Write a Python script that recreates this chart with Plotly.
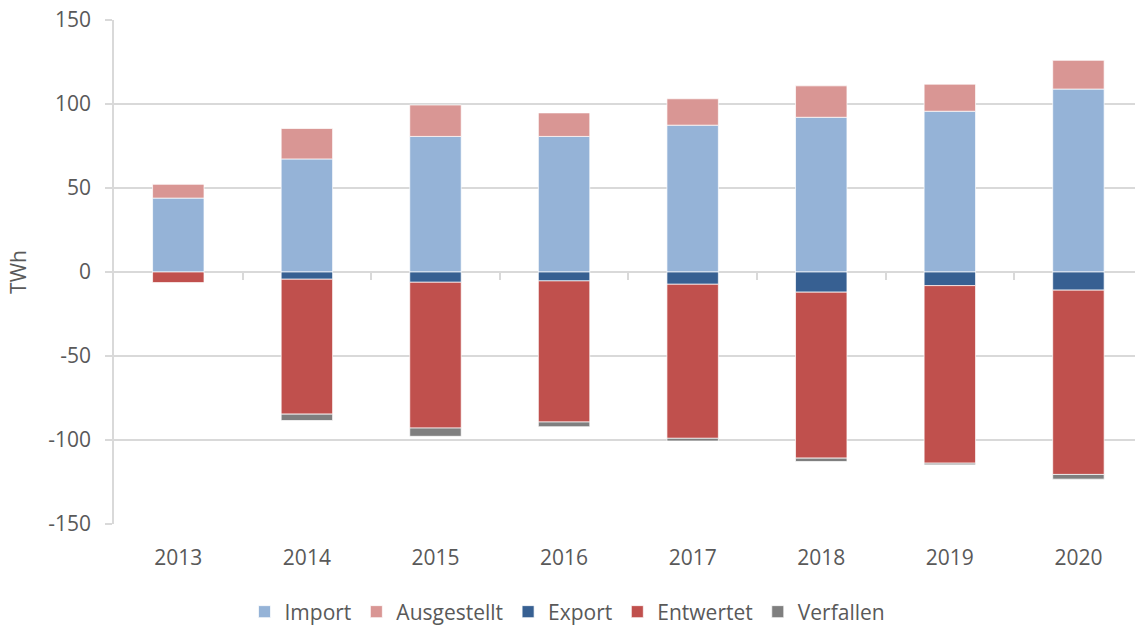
import plotly.graph_objects as go

years = ["2013", "2014", "2015", "2016", "2017", "2018", "2019", "2020"]
import_vals = [44, 67.3, 80.7, 80.7, 87.4, 92.1, 95.7, 108.9]
ausgestellt = [8.5, 18.1, 18.7, 14.0, 15.7, 18.7, 16.1, 17.1]
export_vals = [0, -4.3, -6.1, -5.3, -7.3, -12.0, -8.1, -10.8]
entwertet = [-6.3, -80.3, -86.8, -84.0, -91.7, -98.8, -105.7, -109.7]
verfallen = [0, -3.8, -4.9, -2.8, -1.6, -2.0, -1.0, -2.8]

y_ticks = [-150, -100, -50, 0, 50, 100, 150]
y_tick_labels = ["-150", "-100", "-50", "0", "50", "100", "150"]
boundaries = [0.5, 1.5, 2.5, 3.5, 4.5, 5.5, 6.5]
x_range = [-0.5, 7.44]

FONT = "Open Sans, sans-serif"
TXT = "#595959"
GRID = "#d9d9d9"

series = [
    ("Import", import_vals, "#95b3d7"),
    ("Ausgestellt", ausgestellt, "#d99694"),
    ("Export", export_vals, "#376092"),
    ("Entwertet", entwertet, "#c0504d"),
    ("Verfallen", verfallen, "#7f7f7f"),
]

fig = go.Figure()
for name, vals, col in series:
    fig.add_trace(go.Bar(
        x=years, y=vals, name=name,
        marker=dict(color=col, line=dict(color="rgba(255,255,255,0.7)", width=1)),
    ))

# helper trace so that the tick axis at zero is drawn
fig.add_trace(go.Scatter(x=[None], y=[None], xaxis="x2", showlegend=False, hoverinfo="skip"))

fig.update_layout(
    width=1135, height=628,
    margin=dict(l=114, r=0, t=20, b=104, autoexpand=False),
    paper_bgcolor="white", plot_bgcolor="white",
    barmode="relative", bargap=0.6,
    font=dict(family=FONT, size=21, color=TXT),
    xaxis=dict(
        type="category", range=x_range, showgrid=False, zeroline=False, showline=False,
        ticks="", tickfont=dict(size=21, color=TXT), ticklabelstandoff=19,
    ),
    xaxis2=dict(
        overlaying="x", anchor="free", position=0.5, side="bottom",
        range=x_range, tickvals=boundaries, ticks="outside",
        ticklen=7, tickwidth=1.5, tickcolor=GRID, showticklabels=False,
        showgrid=False, zeroline=False, showline=False,
    ),
    yaxis=dict(
        range=[-150, 150], tickvals=y_ticks, ticktext=y_tick_labels,
        showgrid=True, gridcolor=GRID,
        gridwidth=1.5, zeroline=True, zerolinecolor=GRID, zerolinewidth=1.5,
        showline=True, linecolor=GRID, linewidth=1.5,
        ticks="outside", ticklen=7, tickcolor=GRID, tickwidth=1.5,
        tickfont=dict(size=21, color=TXT), ticklabelstandoff=10,
        title=dict(text="TWh", font=dict(size=21, color=TXT), standoff=16),
    ),
    legend=dict(
        orientation="h", xref="container", x=0.5, xanchor="center",
        yref="paper", y=-0.1746, yanchor="middle",
        font=dict(size=21, color=TXT), traceorder="normal",
        itemwidth=30,
    ),
)

fig.write_html(
    "out.html",
    config={"displayModeBar": False},
    post_script="document.body.style.margin='0';",
)
